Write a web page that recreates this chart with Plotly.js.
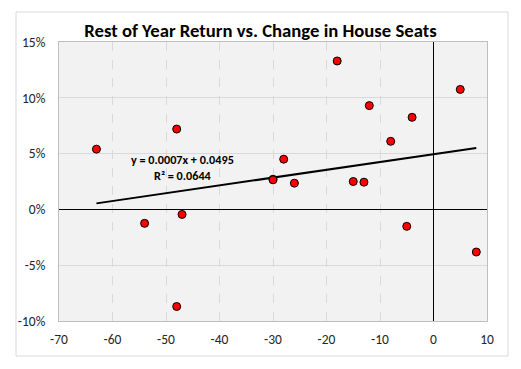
<!DOCTYPE html>
<html><head><meta charset="utf-8">
<script src="https://cdn.plot.ly/plotly-3.0.1.min.js"></script>
<style>html,body{margin:0;padding:0;background:#fff}#chart{width:521px;height:369px}</style>
</head><body><div id="chart"></div>
<script>
var seatChange = [-63, -54, -48, -48, -47, -30, -30, -28, -26, -18, -15, -13, -12, -8, -5, -4, 5, 8];
var restReturn = [0.054, -0.0125, 0.072, -0.087, -0.0045, 0.027, 0.0265, 0.045, 0.0235, 0.133, 0.025, 0.0244, 0.093, 0.061, -0.0152, 0.0825, 0.1075, -0.0382];
var trendSlope = 0.0007;
var trendIntercept = 0.0495;
var trendR2 = 0.0644;
var xTicks = [-70, -60, -50, -40, -30, -20, -10, 0, 10];
var yTicks = [-0.10, -0.05, 0, 0.05, 0.10, 0.15];

var xMin = Math.min.apply(null, seatChange), xMax = Math.max.apply(null, seatChange);
var trend = {
  x: [xMin, xMax],
  y: [trendSlope * xMin + trendIntercept, trendSlope * xMax + trendIntercept],
  mode: 'lines', line: {color: '#000', width: 2}, hoverinfo: 'skip', showlegend: false
};
var pts = {
  x: seatChange, y: restReturn, mode: 'markers', type: 'scatter', showlegend: false,
  marker: {color: '#ff0000', size: 8, line: {color: '#000', width: 1}}
};
var fam = 'Calibri, Carlito, "Open Sans", sans-serif';
var layout = {
  width: 521, height: 369,
  margin: {l: 59, r: 34, t: 42, b: 48},
  paper_bgcolor: '#fff', plot_bgcolor: '#f2f2f2',
  font: {family: fam, size: 13.5, color: '#262626'},
  title: {text: '<b>Rest of Year Return vs. Change in House Seats</b>', x: 0.5, xref: 'container', y: 1 - 30/369, yref: 'container', yanchor: 'middle',
          font: {family: fam, size: 18.7, color: '#000'}},
  xaxis: {range: [-70, 10], tickvals: xTicks, ticktext: xTicks.map(String), showgrid: true, gridcolor: '#d9d9d9', griddash: 'dash', gridwidth: 1,
          zeroline: true, zerolinecolor: '#000', zerolinewidth: 1.3, showline: true, linecolor: '#bfbfbf', mirror: true,
          ticks: 'outside', ticklen: 6, tickcolor: 'rgba(0,0,0,0)'},
  yaxis: {range: [-0.10, 0.15], tickvals: yTicks, ticktext: yTicks.map(function(v){return Math.round(v*100) + '%';}), showgrid: true, gridcolor: '#d9d9d9', gridwidth: 1,
          zeroline: true, zerolinecolor: '#000', zerolinewidth: 1.3, showline: true, linecolor: '#bfbfbf', mirror: true,
          ticks: 'outside', ticklen: 10, tickcolor: 'rgba(0,0,0,0)'},
  annotations: [{x: -46.9, y: 0.0375, xref: 'x', yref: 'y', showarrow: false,
    text: '<b>y = ' + trendSlope.toFixed(4) + 'x + ' + trendIntercept.toFixed(4) + '</b><br><b>R² = ' + trendR2.toFixed(4) + '</b>',
    font: {family: fam, size: 12.2, color: '#000'}, align: 'center'}],
  shapes: [{type: 'rect', xref: 'paper', yref: 'paper', x0: (16-59)/428, x1: (508-59)/428, y0: (321-356)/279, y1: (321-12)/279,
    line: {color: '#d9d9d9', width: 1}, layer: 'below'}]
};
Plotly.newPlot('chart', [trend, pts], layout, {displayModeBar: false, staticPlot: true});
</script></body></html>
